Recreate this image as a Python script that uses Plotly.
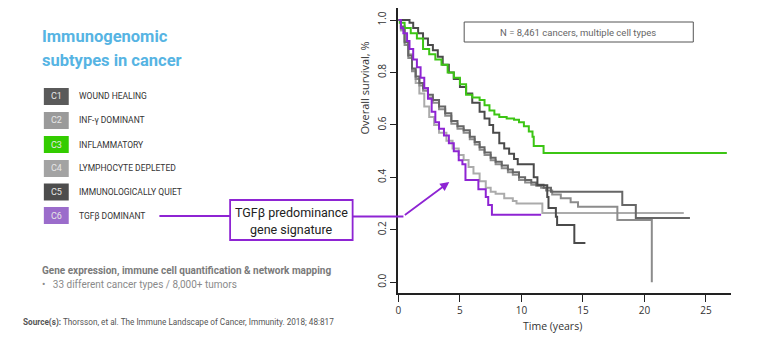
import plotly.graph_objects as go

# ---------------- data ----------------
codes = ["C1", "C2", "C3", "C4", "C5", "C6"]
labels = ["WOUND HEALING", "INF-γ DOMINANT", "INFLAMMATORY", "LYMPHOCYTE DEPLETED",
          "IMMUNOLOGICALLY QUIET", "TGFβ DOMINANT"]
box_colors = ["#5a5a5a", "#9a9a9a", "#33cc00", "#a3a3a3", "#4d4d4d", "#9b6ccb"]
line_colors = ["#666666", "#8c8c8c", "#3cc514", "#ababab", "#4a4a4a", "#8e24d3"]

t_c1 = [0, 0.2, 0.5, 0.8, 1.1, 1.4, 1.7, 2.0, 2.4, 2.8, 3.3, 3.8, 4.3, 4.8, 5.3, 5.8, 6.2, 6.6,
        7.0, 7.5, 7.9, 8.4, 8.9, 9.3, 9.8, 10.3, 10.8, 11.2, 11.8, 12.4, 18.2, 19.3, 23.7]
s_c1 = [1.0, 0.975, 0.915, 0.865, 0.815, 0.785, 0.76, 0.74, 0.715, 0.695, 0.67, 0.645, 0.615,
        0.595, 0.58, 0.555, 0.535, 0.515, 0.495, 0.475, 0.46, 0.445, 0.43, 0.42, 0.40, 0.39,
        0.38, 0.372, 0.36, 0.345, 0.295, 0.245, 0.245]

t_c2 = [0, 0.2, 0.5, 0.8, 1.1, 1.4, 1.7, 2.0, 2.4, 2.8, 3.3, 3.8, 4.3, 4.8, 5.3, 5.8, 6.2, 6.6,
        7.0, 7.5, 7.9, 8.4, 8.9, 9.3, 9.8, 10.3, 10.8, 11.2, 11.6, 12.0, 12.5, 13.2, 14.0, 14.6,
        17.8, 20.6, 20.6]
s_c2 = [1.0, 0.965, 0.905, 0.855, 0.805, 0.775, 0.75, 0.73, 0.705, 0.685, 0.66, 0.635, 0.605,
        0.585, 0.57, 0.545, 0.525, 0.505, 0.485, 0.465, 0.45, 0.435, 0.42, 0.41, 0.39, 0.38,
        0.372, 0.368, 0.36, 0.35, 0.335, 0.32, 0.305, 0.288, 0.237, 0.237, 0.0]

t_c3 = [0, 0.1, 0.5, 1.0, 1.5, 2.0, 2.5, 3.0, 3.5, 4.0, 4.5, 5.0, 5.5, 6.0, 6.6, 7.0, 7.4, 7.8,
        8.2, 8.8, 9.4, 9.8, 10.2, 10.6, 10.9, 11.0, 11.8, 26.7]
s_c3 = [1.0, 0.99, 0.97, 0.95, 0.93, 0.89, 0.87, 0.85, 0.83, 0.80, 0.78, 0.755, 0.715, 0.705,
        0.695, 0.675, 0.655, 0.64, 0.63, 0.625, 0.62, 0.61, 0.595, 0.575, 0.555, 0.52, 0.493,
        0.493]

t_c4 = [0, 0.2, 0.5, 0.8, 1.1, 1.4, 1.7, 2.1, 2.5, 2.9, 3.3, 3.9, 4.4, 4.9, 5.3, 5.7, 6.1, 6.6,
        7.1, 7.5, 7.9, 8.6, 9.3, 9.6, 11.7, 23.2]
s_c4 = [1.0, 0.96, 0.92, 0.87, 0.81, 0.76, 0.72, 0.67, 0.63, 0.60, 0.57, 0.54, 0.51, 0.485,
        0.466, 0.44, 0.415, 0.385, 0.36, 0.345, 0.338, 0.32, 0.31, 0.30, 0.264, 0.264]

t_c5 = [0, 0.9, 1.2, 1.6, 2.0, 2.4, 2.8, 3.2, 3.6, 4.1, 4.5, 5.0, 5.5, 6.0, 6.6, 7.0, 7.4, 7.7,
        8.2, 8.6, 9.0, 9.4, 9.7, 11.0, 11.3, 12.1, 12.2, 12.8, 12.9, 14.3, 15.2]
s_c5 = [1.0, 0.99, 0.97, 0.95, 0.93, 0.905, 0.885, 0.86, 0.83, 0.80, 0.775, 0.745, 0.72, 0.685,
        0.65, 0.625, 0.60, 0.57, 0.53, 0.51, 0.49, 0.47, 0.45, 0.40, 0.37, 0.325, 0.283, 0.25,
        0.218, 0.15, 0.15]

t_c6 = [0, 0.2, 0.4, 0.7, 0.9, 1.2, 1.5, 1.8, 2.1, 2.4, 2.7, 3.0, 3.3, 3.7, 4.1, 4.5, 4.9, 5.2,
        5.45, 6.5, 7.1, 7.3, 7.6, 11.6]
s_c6 = [1.0, 0.97, 0.95, 0.92, 0.89, 0.85, 0.82, 0.78, 0.74, 0.70, 0.65, 0.61, 0.585, 0.56,
        0.53, 0.50, 0.465, 0.45, 0.39, 0.355, 0.325, 0.295, 0.257, 0.257]

x_ticks = [0, 5, 10, 15, 20, 25]
y_ticks = [0.0, 0.2, 0.4, 0.6, 0.8, 1.0]

W, H = 766, 343


def px(x):
    return x / W


def py(y):
    return 1 - y / H


fig = go.Figure()

series = {"C1": (t_c1, s_c1), "C2": (t_c2, s_c2), "C3": (t_c3, s_c3),
          "C4": (t_c4, s_c4), "C5": (t_c5, s_c5), "C6": (t_c6, s_c6)}
draw_order = ["C4", "C2", "C1", "C5", "C3", "C6"]
for code in draw_order:
    i = codes.index(code)
    t, s = series[code]
    fig.add_trace(go.Scatter(x=t, y=s, mode="lines", line=dict(color=line_colors[i], width=2,
                                                               shape="hv"),
                             name=labels[i], showlegend=False, hoverinfo="skip"))

axis_font = dict(family="Open Sans, DejaVu Sans, sans-serif", size=10, color="#333333")
fig.update_layout(
    width=W, height=H, margin=dict(l=0, r=0, t=0, b=0),
    paper_bgcolor="white", plot_bgcolor="white", showlegend=False,
    xaxis=dict(domain=[px(397), px(731)], range=[0, 27.05], tickvals=x_ticks,
               showgrid=False, zeroline=False, showline=True, linecolor="#222222", linewidth=1.5,
               ticks="outside", ticklen=7, tickcolor="#222222", tickwidth=1.2,
               tickfont=axis_font, fixedrange=True),
    yaxis=dict(domain=[py(293), py(8)], range=[-0.041, 1.046], tickvals=y_ticks,
               tickformat=".1f", tickangle=-90,
               showgrid=False, zeroline=False, showline=True, linecolor="#222222", linewidth=1.5,
               ticks="outside", ticklen=7, tickcolor="#222222", tickwidth=1.2,
               tickfont=axis_font, fixedrange=True),
)

shapes = []
annotations = []

# Title
annotations.append(dict(x=px(37), y=py(37), xref="paper", yref="paper", xanchor="left",
                        yanchor="middle", showarrow=False, text="<b>Immunogenomic</b>",
                        font=dict(family="Roboto", size=16.5, color="#56b4e3")))
annotations.append(dict(x=px(37), y=py(60), xref="paper", yref="paper", xanchor="left",
                        yanchor="middle", showarrow=False, text="<b>subtypes in cancer</b>",
                        font=dict(family="Roboto", size=16.5, color="#56b4e3")))

# Legend boxes
centers = [96.5, 120.5, 144.5, 168.5, 192, 215.5]
for i, c in enumerate(codes):
    cy = centers[i]
    shapes.append(dict(type="rect", xref="paper", yref="paper", x0=px(41), x1=px(66),
                       y0=py(cy - 8.5), y1=py(cy + 8.5), fillcolor=box_colors[i],
                       line=dict(width=0)))
    annotations.append(dict(x=px(53.5), y=py(cy), xref="paper", yref="paper", xanchor="center",
                            yanchor="middle", showarrow=False, text=c,
                            font=dict(family="Roboto", size=9, color="#e6e6e6")))
    annotations.append(dict(x=px(74), y=py(cy), xref="paper", yref="paper", xanchor="left",
                            yanchor="middle", showarrow=False, text=labels[i],
                            font=dict(family="Roboto", size=8.5, color="#333333")))

# Callout
purple = "#8e24d3"
shapes.append(dict(type="line", xref="paper", yref="paper", x0=px(157), x1=px(228),
                   y0=py(216), y1=py(216), line=dict(color=purple, width=1.8)))
shapes.append(dict(type="rect", xref="paper", yref="paper", x0=px(228), x1=px(351),
                   y0=py(240), y1=py(200), fillcolor="white", line=dict(color=purple, width=1.8)))
shapes.append(dict(type="line", xref="paper", yref="paper", x0=px(351), x1=px(402),
                   y0=py(216.5), y1=py(216.5), line=dict(color=purple, width=1.8)))
annotations.append(dict(x=px(289.5), y=py(212), xref="paper", yref="paper", xanchor="center",
                        yanchor="middle", showarrow=False, text="TGFβ predominance",
                        font=dict(family="Roboto", size=12.5, color="#222222")))
annotations.append(dict(x=px(289.5), y=py(229), xref="paper", yref="paper", xanchor="center",
                        yanchor="middle", showarrow=False, text="gene signature",
                        font=dict(family="Roboto", size=12.5, color="#222222")))
annotations.append(dict(x=4.13, y=0.382, xref="x", yref="y", ax=0.4, ay=0.252, axref="x",
                        ayref="y", showarrow=True, arrowhead=2, arrowsize=1, arrowwidth=1.8,
                        arrowcolor=purple, text=""))

# N box
shapes.append(dict(type="rect", xref="paper", yref="paper", x0=px(463), x1=px(693),
                   y0=py(42), y1=py(22), line=dict(color="#555555", width=1)))
annotations.append(dict(x=px(577), y=py(32), xref="paper", yref="paper", xanchor="center",
                        yanchor="middle", showarrow=False,
                        text="N = 8,461 cancers, multiple cell types",
                        font=dict(family="Roboto", size=9.5, color="#666666")))

# Axis titles
annotations.append(dict(x=px(552), y=py(326), xref="paper", yref="paper", xanchor="center",
                        yanchor="middle", showarrow=False, text="Time (years)",
                        font=dict(family="Open Sans, DejaVu Sans", size=10.5, color="#333333")))
annotations.append(dict(x=px(362), y=py(88), xref="paper", yref="paper", xanchor="center",
                        yanchor="middle", showarrow=False, text="Overall survival, %",
                        textangle=-90,
                        font=dict(family="Open Sans, DejaVu Sans", size=11, color="#333333")))

# Bottom-left text
annotations.append(dict(x=px(37), y=py(271), xref="paper", yref="paper", xanchor="left",
                        yanchor="middle", showarrow=False,
                        text="<b>Gene expression, immune cell quantification &amp; network mapping</b>",
                        font=dict(family="Roboto", size=10, color="#7a7a7a")))
annotations.append(dict(x=px(37), y=py(284), xref="paper", yref="paper", xanchor="left",
                        yanchor="middle", showarrow=False,
                        text="•   33 different cancer types / 8,000+ tumors",
                        font=dict(family="Roboto", size=10, color="#8a8a8a")))
annotations.append(dict(x=px(18), y=py(322), xref="paper", yref="paper", xanchor="left",
                        yanchor="middle", showarrow=False,
                        text="<b>Source(s):</b> Thorsson, et al. The Immune Landscape of Cancer, "
                             "Immunity. 2018; 48:817",
                        font=dict(family="Roboto", size=8.2, color="#555555")))

fig.update_layout(shapes=shapes, annotations=annotations)
fig.write_html("out.html")
